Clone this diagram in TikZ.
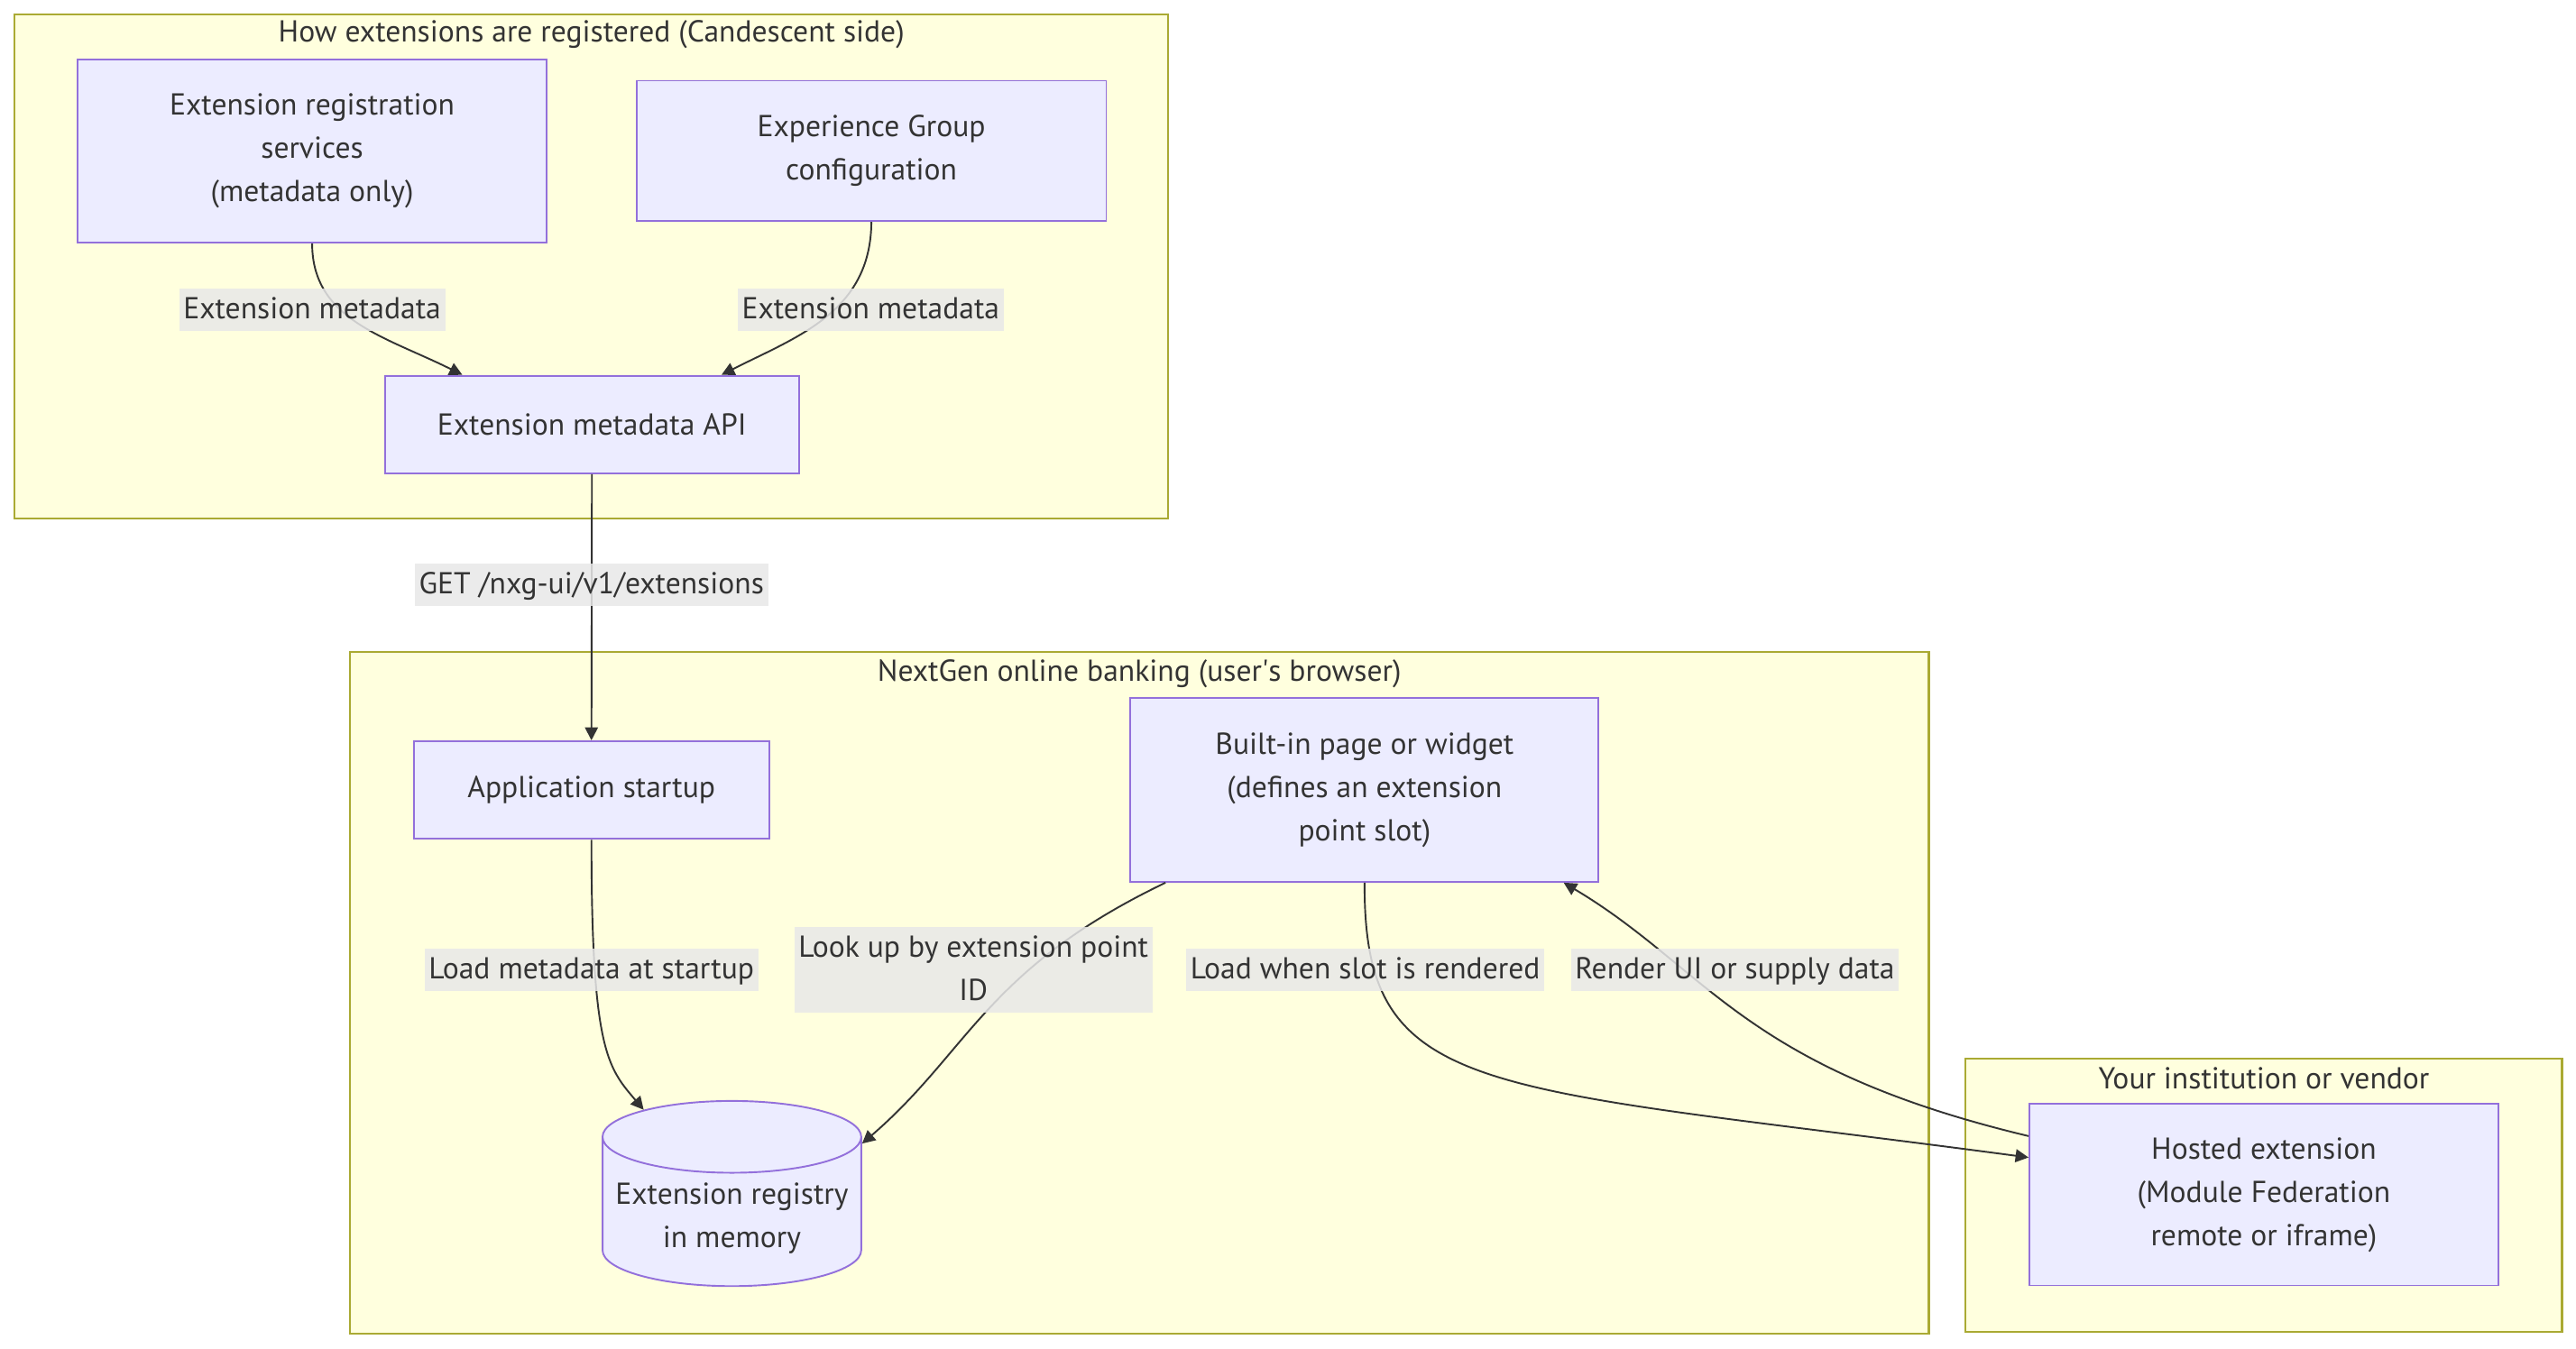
\documentclass[tikz,border=0pt]{standalone}
\usepackage{xcolor}
\usepackage{fontspec}
\setmainfont{PT Sans}
\usepackage{tikz}
\usetikzlibrary{arrows.meta, shapes.geometric}

\definecolor{boxfill}{HTML}{ECECFF}
\definecolor{boxline}{HTML}{9370DB}
\definecolor{zonefill}{HTML}{FFFFDE}
\definecolor{zoneline}{HTML}{AAAA33}
\definecolor{tagfill}{HTML}{E8E8E8}
\definecolor{ink}{HTML}{333333}

\tikzset{
    box/.style={draw=boxline, fill=boxfill, line width=0.6pt, align=center, text=ink},
    zone/.style={draw=zoneline, fill=zonefill, line width=0.7pt},
    zonetitle/.style={text=ink},
    tag/.style={fill=tagfill, fill opacity=0.85, text opacity=1, text=ink, align=center,
        inner xsep=1.5pt, inner ysep=0pt, text height=10.5pt, text depth=4.3pt},
}

\begin{document}
\begin{tikzpicture}[x=0.02cm, y=-0.02cm, font=\fontsize{10.5}{15}\selectfont,
        >={Triangle[length=4.5pt, width=4.5pt]}, line width=0.6pt]
        \useasboundingbox (0, 0) rectangle (1568, 821);

        \draw[zone] (8.7, 8.8) rectangle (711, 315.5);
        \draw[zone] (213, 397) rectangle (1174, 812);
        \draw[zone] (1196.5, 644.5) rectangle (1559.5, 810.7);

        \node[zonetitle] at (360, 21) (tA) {How extensions are registered (Candescent side)};
        \node[zonetitle] at (693.5, 410.5) (tB) {NextGen online banking (user\textquotesingle s browser)};
        \node[zonetitle] at (1378, 656.5) (tC) {Your institution or vendor};

        \node[box, minimum width=5.71cm, minimum height=2.23cm] at (190, 92) (reg) {Extension registration\\services\\(metadata only)};
        \node[box, minimum width=5.72cm, minimum height=1.71cm] at (530.4, 91.9) (grp) {Experience Group\\configuration};
        \node[box, minimum width=5.04cm, minimum height=1.19cm] at (360.3, 258.5) (api) {Extension metadata API};

        \node[box, minimum width=4.33cm, minimum height=1.19cm] at (360, 481) (app) {Application startup};
        \node[box, minimum width=5.70cm, minimum height=2.24cm] at (830.6, 480.9) (bb) {Built-in page or widget\\(defines an extension\\point slot)};
        \node[box, cylinder, shape border rotate=90, aspect=0.285, minimum width=3.15cm, minimum height=2.08cm] at (445.5, 742) (cyl) {Extension registry\\in memory};

        \node[box, minimum width=5.71cm, minimum height=2.21cm] at (1378, 727.4) (ext) {Hosted extension\\(Module Federation\\remote or iframe)};

        \draw[->, ink] (reg.south) .. controls (190, 195) and (235, 205) .. (api.159);
        \draw[->, ink] (grp.south) .. controls (530, 190) and (485, 205) .. (api.21);
        \draw[->, ink] (api.south) -- (app.north);
        \draw[->, ink] (app.south) .. controls (360, 640) and (370, 650) .. (cyl.129);
        \draw[->, ink] (bb.205) .. controls (600, 590) and (590, 640) .. (cyl.30);
        \draw[->, ink] (bb.south) .. controls (830, 670) and (900, 660) .. (ext.171);
        \draw[->, ink] (ext.166) .. controls (1060, 650) and (1040, 590) .. (bb.335);

        \node[tag] at (190, 188.5) (mA) {Extension metadata};
        \node[tag] at (530, 188.5) (mB) {Extension metadata};
        \node[tag] at (360, 356) (get) {GET /nxg-ui/v1/extensions};
        \node[tag] at (360, 590.5) (load) {Load metadata at startup};
        \node[tag, text height=25.5pt] at (592.5, 590.5) (look) {Look up by extension point\\ID};
        \node[tag] at (831, 590.5) (slot) {Load when slot is rendered};
        \node[tag] at (1056, 590.5) (ui) {Render UI or supply data};
\end{tikzpicture}
\end{document}
